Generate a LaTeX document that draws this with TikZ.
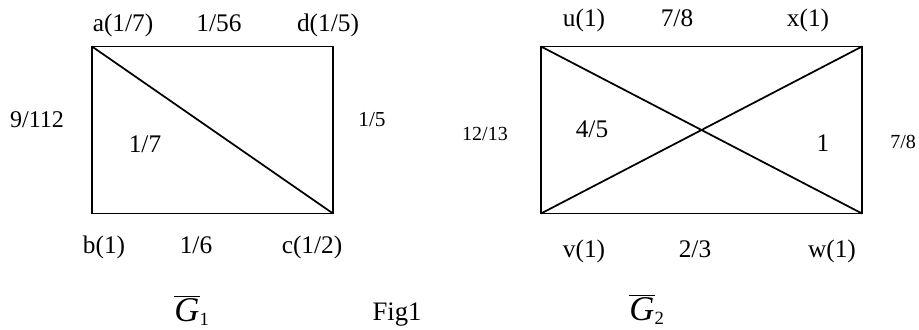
\documentclass[tikz,border=0pt]{standalone}
\usepackage{fontspec}
\setmainfont{Liberation Serif}
\begin{document}
\begin{tikzpicture}[x=0.75pt,y=-0.75pt,
  edge/.style={line width=1.3pt},
  lbl/.style={inner sep=0pt,anchor=base,font=\fontsize{19}{22}\selectfont},
  slbl/.style={inner sep=0pt,anchor=base,font=\fontsize{15}{18}\selectfont},
  glbl/.style={inner sep=0pt,anchor=base,font=\fontsize{26}{30}\selectfont}]
\useasboundingbox (0,0) rectangle (919,329);
% G1
\coordinate (a) at (92,46.5);
\coordinate (d) at (333,46.5);
\coordinate (b) at (92,213.5);
\coordinate (c) at (333,213.5);
\draw[edge] (a) -- (d) -- (c) -- (b) -- cycle;
\draw[edge] (a) -- (c);
\node[lbl] (la) at (123,31.5) {a(1/7)};
\node[lbl] (lad) at (219,31.5) {1/56};
\node[lbl] (ld) at (328,31.5) {d(1/5)};
\node[lbl,font=\fontsize{18}{21}\selectfont] (lab) at (37,127) {9/112};
\node[lbl,font=\fontsize{16}{19}\selectfont] (ldc) at (372,126) {1/5};
\node[lbl] (lac) at (145,152) {1/7};
\node[lbl] (lb) at (104,253) {b(1)};
\node[lbl] (lbc) at (196,253) {1/6};
\node[lbl] (lc) at (312,253) {c(1/2)};
\node[glbl] (g1) at (192,321) {$\overline{\mbox{\itshape G}}_{\mbox{\fontsize{14}{16}\selectfont 1}}$};
\node[lbl,font=\fontsize{20}{24}\selectfont] (fig) at (397,320) {Fig1};
% G2
\coordinate (u) at (541,46.5);
\coordinate (x) at (862,46.5);
\coordinate (v) at (541,213.5);
\coordinate (w) at (862,213.5);
\draw[edge] (u) -- (x) -- (w) -- (v) -- cycle;
\draw[edge] (u) -- (w);
\draw[edge] (v) -- (x);
\node[lbl] (lu) at (584,26) {u(1)};
\node[lbl] (lux) at (677,26) {7/8};
\node[lbl] (lx) at (808,26) {x(1)};
\node[slbl] (luv) at (485,140) {12/13};
\node[lbl] (luw) at (592,137) {4/5};
\node[lbl] (lvx) at (823,151) {1};
\node[slbl,anchor=base west] (lxw) at (890,148) {7/8};
\node[lbl] (lv) at (584,257) {v(1)};
\node[lbl] (lvw) at (695,257) {2/3};
\node[lbl] (lw) at (832,257) {w(1)};
\node[glbl] (g2) at (647,320) {$\overline{\mbox{\itshape G}}_{\mbox{\fontsize{14}{16}\selectfont 2}}$};
\end{tikzpicture}
\end{document}
